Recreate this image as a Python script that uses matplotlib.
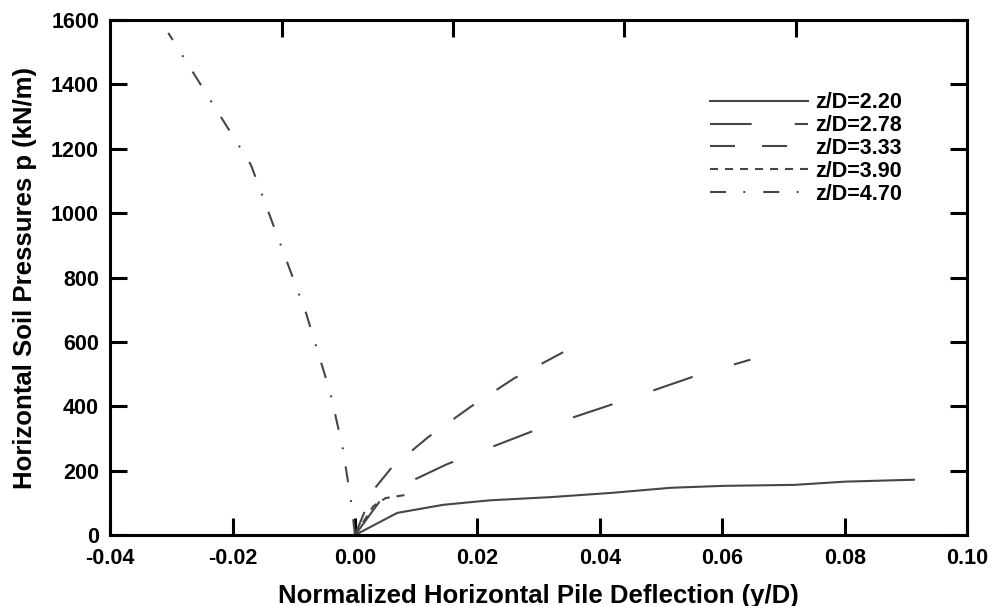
import matplotlib
matplotlib.use("Agg")
import matplotlib.pyplot as plt

plt.rcParams['font.family'] = ['Liberation Sans', 'DejaVu Sans']
plt.rcParams['font.weight'] = 'bold'
plt.rcParams['lines.scale_dashes'] = False

# p-y curves at each depth ratio z/D
x_220 = [0.0, 0.0069, 0.0144, 0.022, 0.032, 0.0418, 0.0516, 0.0603, 0.0718, 0.080, 0.0913]
p_220 = [0, 69, 94, 108, 118, 131, 147, 153, 156, 166, 172]

x_278 = [0.0, 0.005, 0.015, 0.030, 0.045, 0.056, 0.0646]
p_278 = [0, 130, 220, 330, 425, 497, 545]

x_333 = [0.0, 0.003, 0.006, 0.012, 0.019, 0.026, 0.034]
p_333 = [0, 140, 210, 305, 400, 487, 568]

x_390 = [0.0, 0.003, 0.005, 0.009]
p_390 = [0, 90, 115, 127]

x_470 = [0.0, -0.0006, -0.002, -0.004, -0.008, -0.017, -0.0305]
p_470 = [0, 100, 270, 440, 690, 1150, 1560]

labels = ['z/D=2.20', 'z/D=2.78', 'z/D=3.33', 'z/D=3.90', 'z/D=4.70']

x_ticks = [-0.04, -0.02, 0.00, 0.02, 0.04, 0.06, 0.08, 0.10]
y_ticks = [0, 200, 400, 600, 800, 1000, 1200, 1400, 1600]

line_color = '#464646'
styles = [
    '-',
    (0, (30, 31)),
    (0, (18, 19.5)),
    (0, (5.8, 5)),
    (0, (11.5, 12.5, 1.4, 13)),
]

fig = plt.figure(figsize=(9.92, 6.06), dpi=100)
ax = fig.add_axes([0.111, 0.117, 0.864, 0.850])

series = [(x_220, p_220), (x_278, p_278), (x_333, p_333), (x_390, p_390), (x_470, p_470)]
for (xs, ps), ls, lab in zip(series, styles, labels):
    ax.plot(xs, ps, color=line_color, linewidth=1.5, linestyle=ls, label=lab)

ax.set_xlim(-0.04, 0.10)
ax.set_ylim(0, 1600)
ax.set_xticks(x_ticks)
ax.set_yticks(y_ticks)
ax.set_xticklabels(['%.2f' % v for v in x_ticks])
ax.set_yticklabels([str(v) for v in y_ticks])

for side in ax.spines.values():
    side.set_linewidth(2.2)
    side.set_color('black')

ax.tick_params(axis='both', direction='in', length=12, width=2.2,
               labelsize=15.5, colors='black')
ax.tick_params(axis='x', pad=9)
ax.tick_params(axis='y', pad=8, right=True)

# top axis carries unlabelled ticks at fifths of the range
top = ax.twiny()
top.set_xlim(ax.get_xlim())
top.set_xticks([-0.04 + k * 0.028 for k in range(1, 5)])
top.tick_params(axis='x', direction='in', length=12, width=2.2, labeltop=False)

ax.set_xlabel('Normalized Horizontal Pile Deflection (y/D)', fontsize=18.5, fontweight='bold', labelpad=11)
ax.set_ylabel('Horizontal Soil Pressures p (kN/m)', fontsize=18.5, fontweight='bold', labelpad=10)

leg = ax.legend(loc='upper left', bbox_to_anchor=(0.700, 0.860), frameon=False,
                fontsize=15.5, handlelength=4.55, handletextpad=0.33, labelspacing=0.09,
                borderpad=0, borderaxespad=0)
for t in leg.get_texts():
    t.set_fontweight('bold')

fig.savefig('out.png', dpi=100)
